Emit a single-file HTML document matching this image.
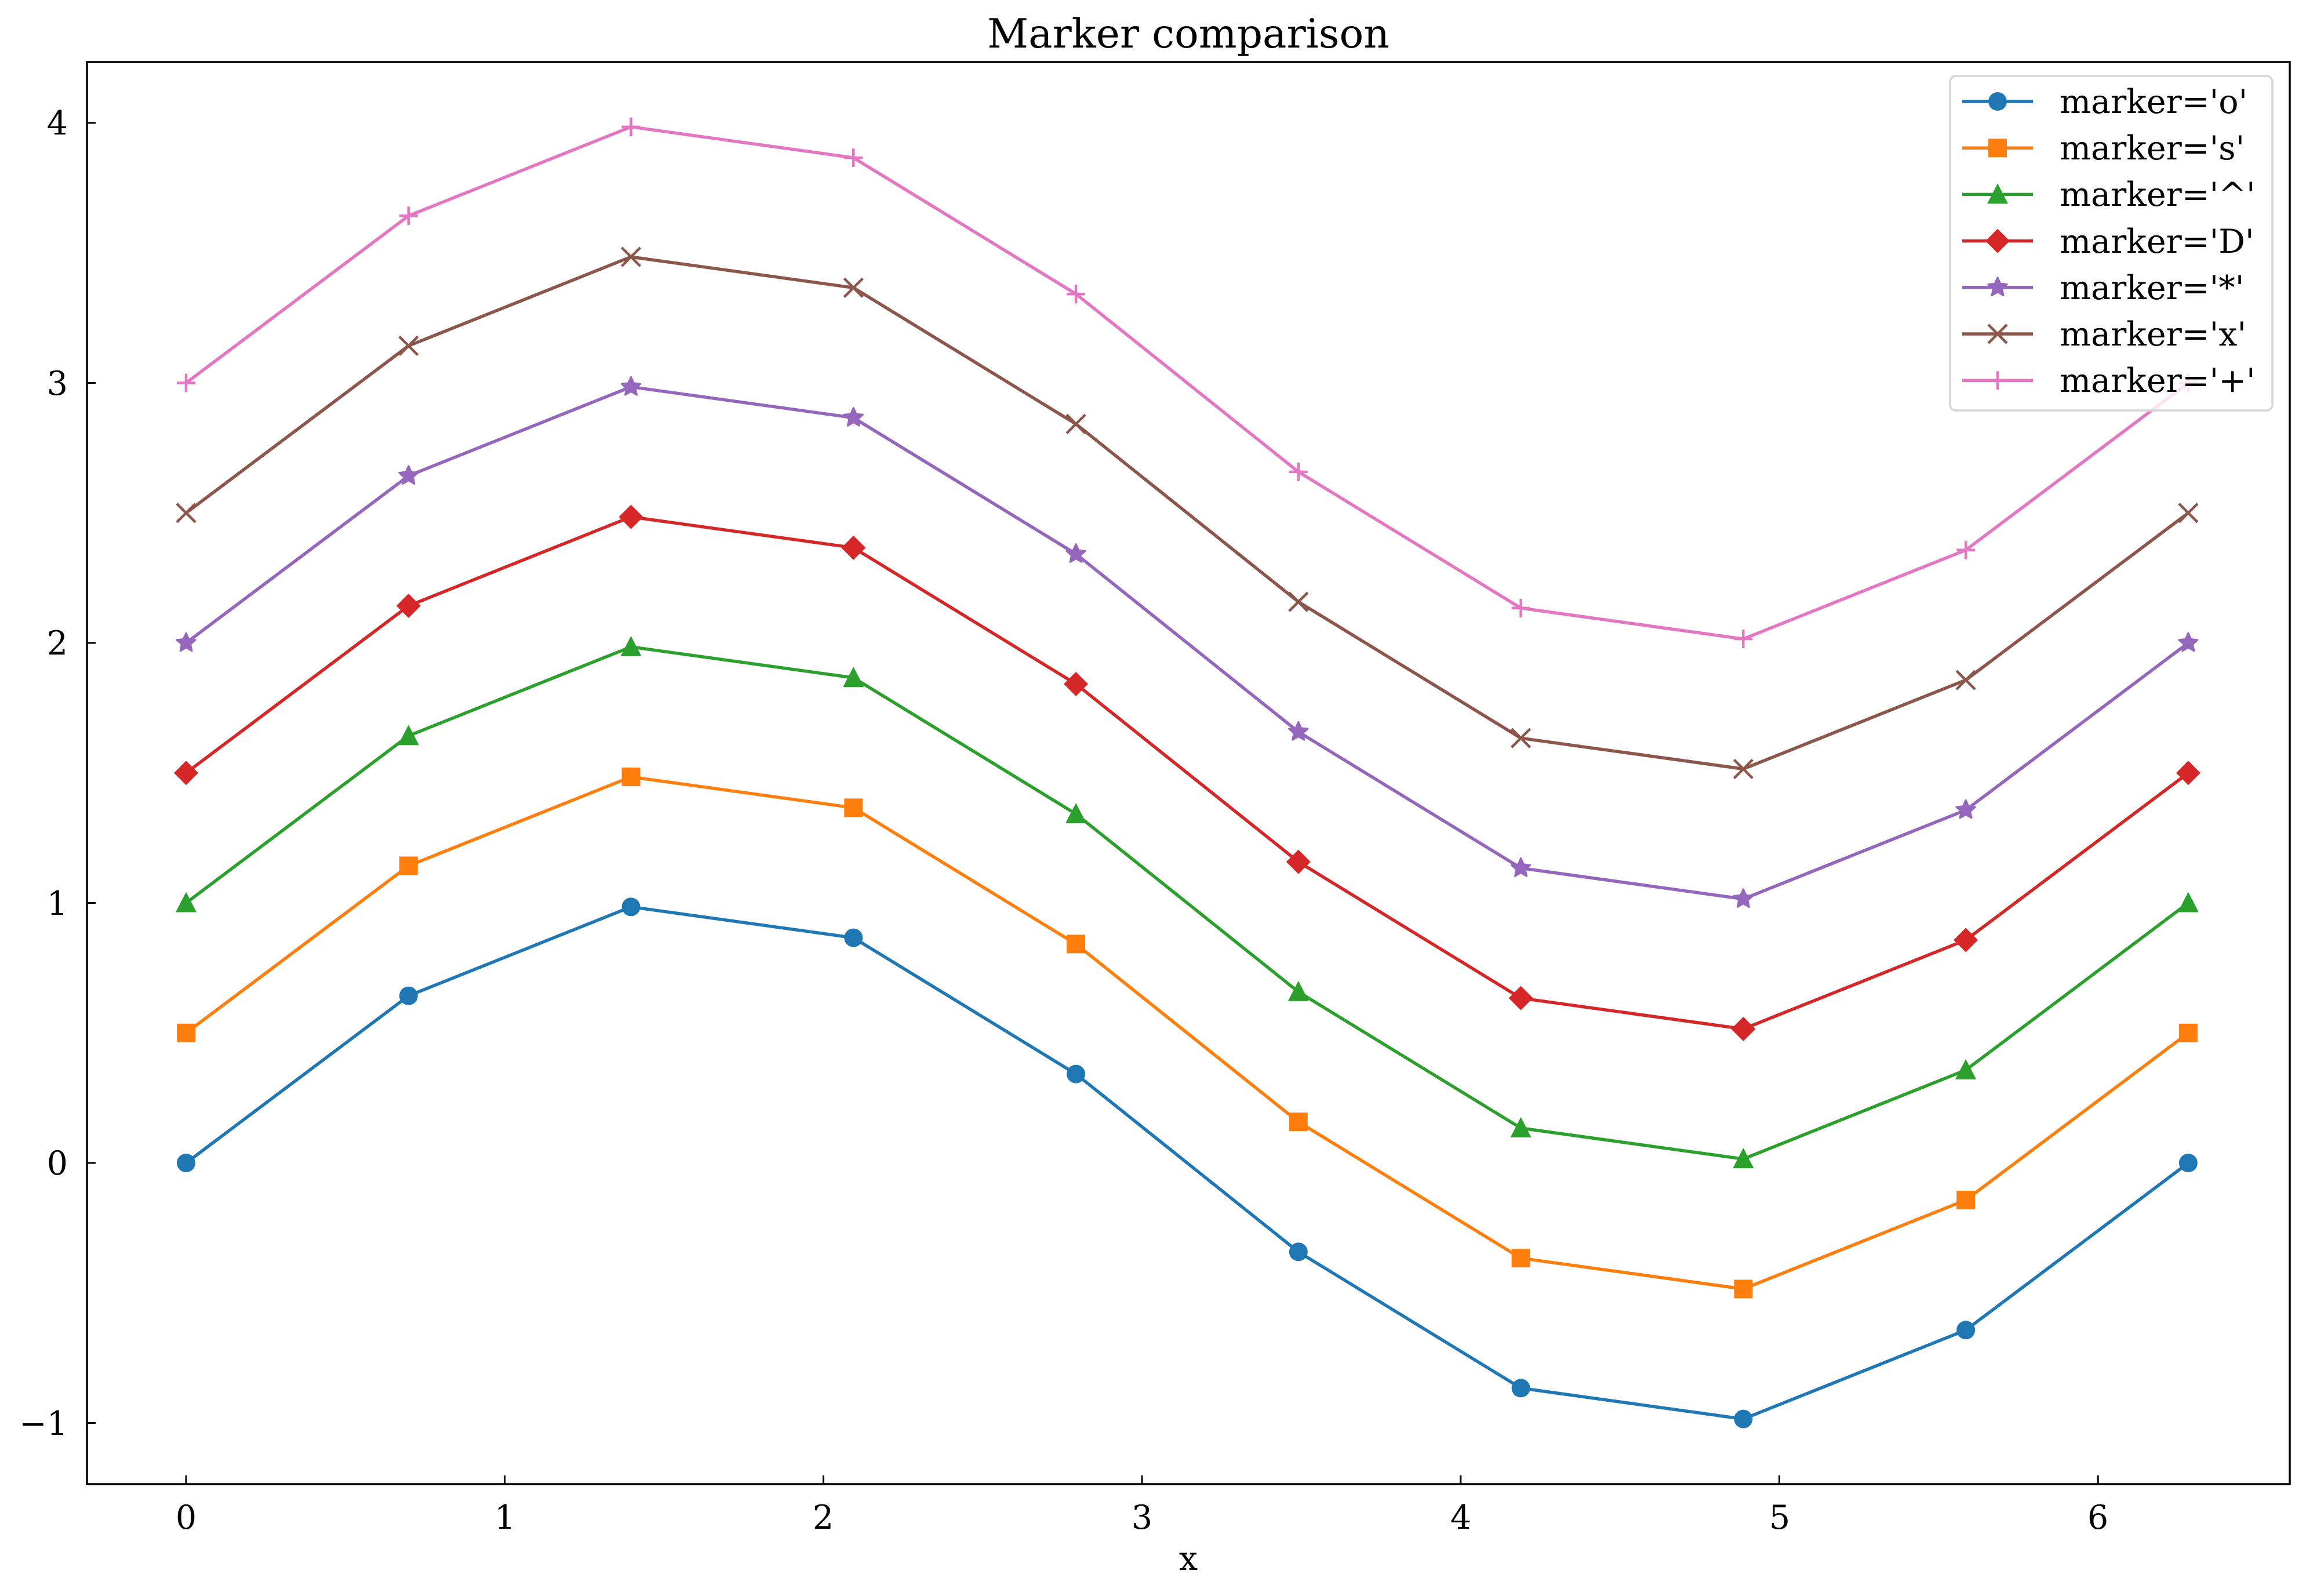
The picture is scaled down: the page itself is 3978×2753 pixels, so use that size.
<!DOCTYPE html>
<html><head><meta charset="utf-8"><style>html,body{margin:0;padding:0;background:#fff}svg{display:block}</style></head>
<body>
<svg id="s" width="3978" height="2753" viewBox="0 0 3978 2753" xmlns="http://www.w3.org/2000/svg" font-family="'DejaVu Serif','Liberation Serif',serif">
<rect width="3978" height="2753" fill="#fff"/>
<text x="2050" y="82" font-size="69" text-anchor="middle" textLength="694" lengthAdjust="spacingAndGlyphs">Marker comparison</text>
<g id="plot"></g>
<rect x="150" y="107" width="3800" height="2453" fill="none" stroke="#000" stroke-width="3.5"/>
<g font-size="57" text-anchor="end">
<text x="117" y="232">4</text>
<text x="117" y="681">3</text>
<text x="117" y="1129">2</text>
<text x="117" y="1578">1</text>
<text x="117" y="2026">0</text>
<text x="117" y="2475">−1</text>
</g>
<g font-size="57" text-anchor="middle">
<text x="321" y="2637">0</text>
<text x="871" y="2637">1</text>
<text x="1420" y="2637">2</text>
<text x="1970" y="2637">3</text>
<text x="2520" y="2637">4</text>
<text x="3070" y="2637">5</text>
<text x="3619" y="2637">6</text>
<text x="2050" y="2708">x</text>
</g>
<rect x="3364" y="131" width="556" height="577" rx="10" fill="#fff" fill-opacity="0.8" stroke="#d6d6d6" stroke-width="3.5"/>
<g id="leg"></g>
<g font-size="57">
<text x="3553" y="195">marker='o'</text>
<text x="3553" y="275">marker='s'</text>
<text x="3553" y="355">marker='^'</text>
<text x="3553" y="436">marker='D'</text>
<text x="3553" y="516">marker='*'</text>
<text x="3553" y="596">marker='x'</text>
<text x="3553" y="676">marker='+'</text>
</g>
</svg>
<script>
const NS="http://www.w3.org/2000/svg";
const cols=["#1f77b4","#ff7f0e","#2ca02c","#d62728","#9467bd","#8c564b","#e377c2"];
const mk=["o","s","^","D","*","x","+"];
const X=v=>321+549.7*v, Y=v=>2006-448.5*v;
function el(t,a,p){const e=document.createElementNS(NS,t);for(const k in a)e.setAttribute(k,a[k]);p.appendChild(e);return e;}
function marker(m,cx,cy,c,p){
 if(m=="o")el("circle",{cx,cy,r:16,fill:c},p);
 else if(m=="s")el("rect",{x:cx-16,y:cy-16,width:32,height:32,fill:c},p);
 else if(m=="^")el("polygon",{points:`${cx},${cy-19} ${cx+18},${cy+16} ${cx-18},${cy+16}`,fill:c},p);
 else if(m=="D")el("polygon",{points:`${cx},${cy-21} ${cx+21},${cy} ${cx},${cy+21} ${cx-21},${cy}`,fill:c},p);
 else if(m=="*"){let pts=[];for(let i=0;i<10;i++){const r=i%2?8:17,a=-Math.PI/2+i*Math.PI/5;pts.push((cx+r*Math.cos(a)).toFixed(1)+","+(cy+r*Math.sin(a)).toFixed(1));}el("polygon",{points:pts.join(" "),fill:c,stroke:c,"stroke-width":3,"stroke-linejoin":"round"},p);}
 else if(m=="x")el("path",{d:`M${cx-16},${cy-16}L${cx+16},${cy+16}M${cx-16},${cy+16}L${cx+16},${cy-16}`,stroke:c,"stroke-width":4.5,fill:"none"},p);
 else el("path",{d:`M${cx-16},${cy}L${cx+16},${cy}M${cx},${cy-16}L${cx},${cy+16}`,stroke:c,"stroke-width":4.5,fill:"none"},p);
}
const g=document.getElementById("plot"),lg=document.getElementById("leg");
// ticks
const ax=document.getElementById("s");
for(let i=0;i<=6;i++){const x=X(i);el("line",{x1:x,y1:2560,x2:x,y2:2545,stroke:"#000","stroke-width":3},g);}
for(let v=-1;v<=4;v++){const y=Y(v);el("line",{x1:150,y1:y,x2:165,y2:y,stroke:"#000","stroke-width":3},g);}
for(let s=0;s<7;s++){
 const pts=[];for(let i=0;i<10;i++){const x=i*2*Math.PI/9;pts.push([X(x),Y(Math.sin(x)+0.5*s)]);}
 el("polyline",{points:pts.map(p=>p[0].toFixed(1)+","+p[1].toFixed(1)).join(" "),fill:"none",stroke:cols[s],"stroke-width":5.5,"stroke-linejoin":"round"},g);
 pts.forEach(p=>marker(mk[s],p[0],p[1],cols[s],g));
 const ly=175+80.2*s;
 el("line",{x1:3385,y1:ly,x2:3507,y2:ly,stroke:cols[s],"stroke-width":5.5},lg);
 marker(mk[s],3446,ly,cols[s],lg);
}
</script>
</body></html>
